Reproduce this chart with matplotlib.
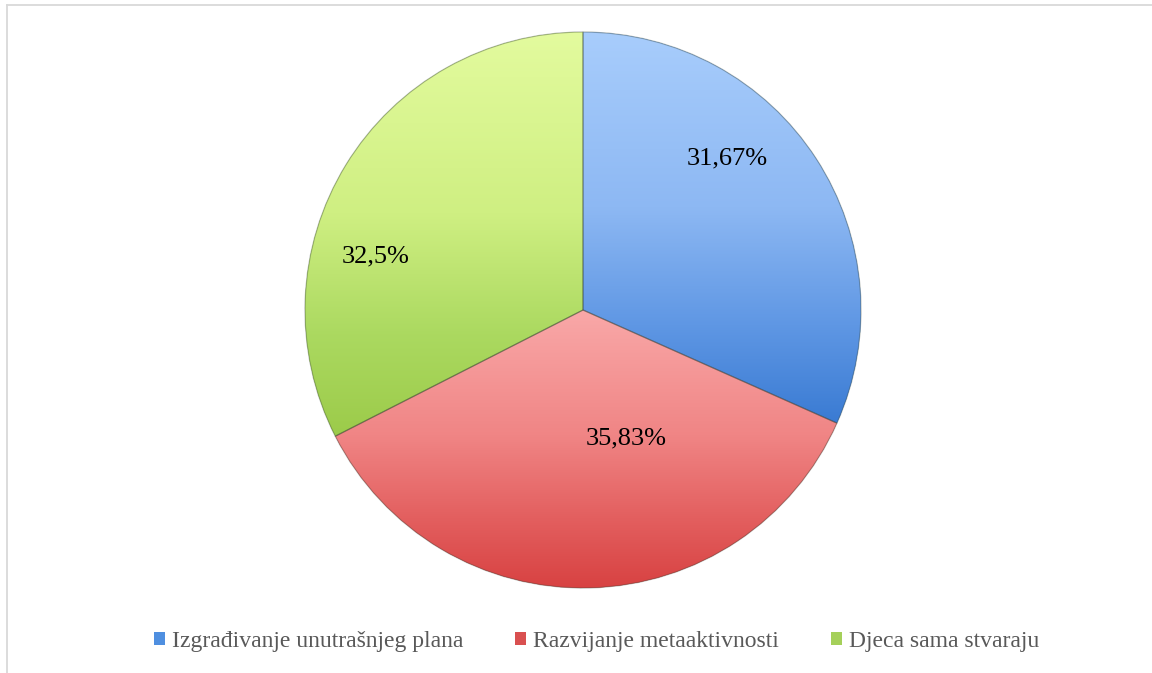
import matplotlib.pyplot as plt
import numpy as np
from matplotlib.colors import LinearSegmentedColormap
from matplotlib.lines import Line2D
from matplotlib.patches import PathPatch

W, H = 1152, 673

categories = ['Izgrađivanje unutrašnjeg plana', 'Razvijanje metaaktivnosti', 'Djeca sama stvaraju']
values = [31.67, 35.83, 32.5]
# gradient stops (top -> bottom) of each slice fill
grad_stops = [
    [(0.0, '#a8cdfc'), (0.45, '#8db8f3'), (0.75, '#5f97e4'), (1.0, '#3a7bd3')],
    [(0.0, '#f9a8a8'), (0.45, '#f08585'), (0.75, '#e35f5f'), (1.0, '#d84242')],
    [(0.0, '#e3fb9e'), (0.45, '#cfef82'), (0.75, '#abd960'), (1.0, '#9ccb4a')],
]
mid_colors = ['#4f8fe0', '#d95050', '#a5d05a']
# where the percent labels sit (pixels, image coords)
label_pos = [(727, 158), (626, 438), (376, 256)]

center = (583, H - 310)
radius = 278

plt.rcParams['font.family'] = ['Liberation Serif', 'DejaVu Serif']

fig = plt.figure(figsize=(W / 100, H / 100), dpi=100)
ax = fig.add_axes([0, 0, 1, 1])

wedges, _ = ax.pie(values, center=center, radius=radius, startangle=90,
                   counterclock=False, colors=mid_colors, frame=True,
                   wedgeprops=dict(edgecolor='none'))
ax.set_xlim(0, W)
ax.set_ylim(0, H)
ax.set_aspect('equal')
ax.axis('off')

grad = np.linspace(0, 1, 256).reshape(-1, 1)
for w, stops in zip(wedges, grad_stops):
    path = w.get_path()
    ext = path.get_extents()
    cmap = LinearSegmentedColormap.from_list('g', stops)
    im = ax.imshow(grad, cmap=cmap, aspect='auto', origin='upper',
                   extent=(ext.x0, ext.x1, ext.y0, ext.y1), zorder=2,
                   interpolation='bilinear')
    im.set_clip_path(w)
    # thin darker seam around each slice
    ax.add_patch(PathPatch(path, fill=False, edgecolor=(0.2, 0.25, 0.2, 0.35),
                           linewidth=0.9, zorder=3))

for v, (x, y) in zip(values, label_pos):
    txt = f'{v:g}'.replace('.', ',') + '%'
    ax.text(x, H - y, txt, ha='center', va='center', fontsize=19, color='black', zorder=4)

leg = fig.legend(wedges, categories, loc='center', bbox_to_anchor=(0.518, 0.047),
                 ncol=3, frameon=False, fontsize=17, labelcolor='#595959',
                 handlelength=0.46, handleheight=0.46, handletextpad=0.3,
                 columnspacing=2.2)

# light grey chart border (top and left visible)
fig.add_artist(Line2D([7 / W, 7 / W], [0, 1 - 4.5 / H], color='#d9d9d9', linewidth=1.3))
fig.add_artist(Line2D([7 / W, 1], [1 - 4.5 / H, 1 - 4.5 / H], color='#d9d9d9', linewidth=1.3))

fig.savefig('out.png', dpi=100)
